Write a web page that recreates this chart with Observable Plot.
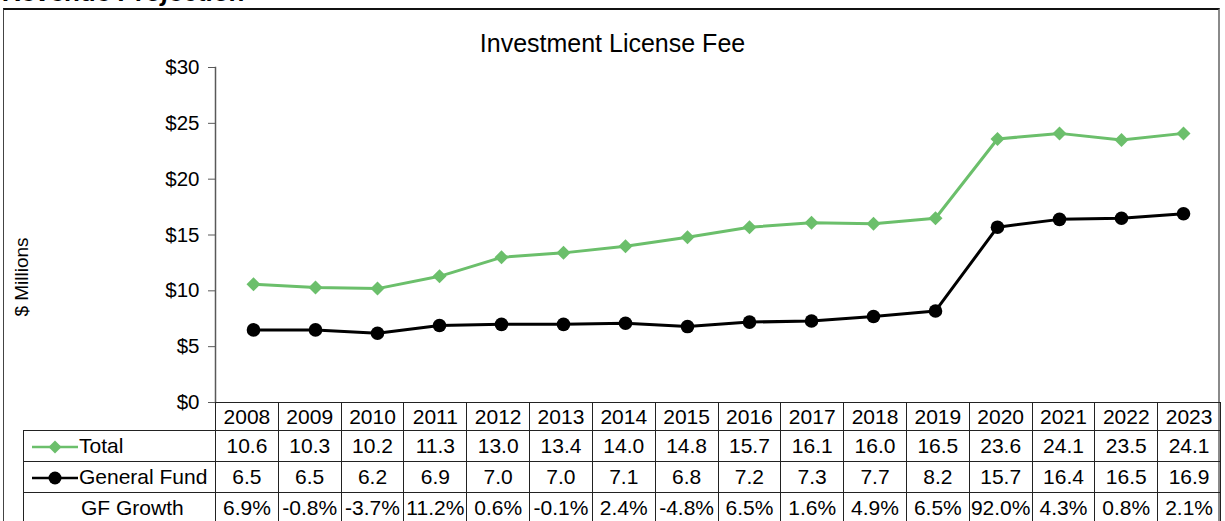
<!DOCTYPE html>
<html>
<head>
<meta charset="utf-8">
<script src="https://cdn.jsdelivr.net/npm/d3@7"></script>
<script src="https://cdn.jsdelivr.net/npm/@observablehq/plot@0.6"></script>
<style>
  html, body { margin: 0; padding: 0; background: #fff; }
  body { width: 1225px; height: 521px; overflow: hidden; position: relative;
         font-family: "Liberation Sans", Arial, sans-serif; color: #000; }
  #pagetitle { position: absolute; left: 3px; top: -20.8px; font-size: 26px; line-height: 26px;
               font-weight: bold; font-style: italic; white-space: nowrap; }
  #box { position: absolute; left: 3px; top: 8px; width: 1217px; height: 530px;
         border-left: 1px solid #444; border-top: 2px solid #111; border-right: 2px solid #8a8a8a; box-sizing: border-box; }
  #charttitle { position: absolute; left: 0; top: 31px; width: 1225px; text-align: center;
                font-size: 25px; line-height: 25px; white-space: nowrap; }
  #ylabel { position: absolute; left: 21px; top: 277px; font-size: 19px; line-height: 19px; white-space: nowrap;
            transform: translate(-50%, -50%) rotate(-90deg); }
  #chart { position: absolute; left: 0; top: 0; }
  #tbl { position: absolute; left: 23px; top: 402px; border-collapse: collapse; table-layout: fixed;
         font-size: 21px; }
  #tbl td { border: 1px solid #222; padding: 0; text-align: center; white-space: nowrap; overflow: hidden; }
  #tbl td.blank { border: none; }
  #tbl td.lab { text-align: left; }
  #tbl tr.hdr td { height: 27px; }
  #tbl tr.row td { height: 30px; }
  .sw { display: inline-block; vertical-align: middle; margin-left: 8px; margin-right: 1px; }
</style>
</head>
<body>
<div id="pagetitle">Revenue Projection</div>
<div id="box"></div>
<div id="charttitle">Investment License Fee</div>
<div id="chart"></div>
<div id="ylabel"></div>
<table id="tbl"></table>
<script>
const years = ["2008","2009","2010","2011","2012","2013","2014","2015","2016","2017","2018","2019","2020","2021","2022","2023"];
const total = [10.6, 10.3, 10.2, 11.3, 13.0, 13.4, 14.0, 14.8, 15.7, 16.1, 16.0, 16.5, 23.6, 24.1, 23.5, 24.1];
const generalFund = [6.5, 6.5, 6.2, 6.9, 7.0, 7.0, 7.1, 6.8, 7.2, 7.3, 7.7, 8.2, 15.7, 16.4, 16.5, 16.9];
const gfGrowth = ["6.9%","-0.8%","-3.7%","11.2%","0.6%","-0.1%","2.4%","-4.8%","6.5%","1.6%","4.9%","6.5%","92.0%","4.3%","0.8%","2.1%"];
const yTicks = [0, 5, 10, 15, 20, 25, 30];
const seriesNames = ["Total", "General Fund", "GF Growth"];
const yLabel = "$ Millions";

const green = "#6BBF6B";
const totalData = years.map((y, i) => ({year: y, value: total[i]}));
const gfData = years.map((y, i) => ({year: y, value: generalFund[i]}));

document.getElementById("ylabel").textContent = yLabel;

const chart = Plot.plot({
  width: 1225,
  height: 521,
  marginLeft: 215,
  marginRight: 5,
  marginTop: 67,
  marginBottom: 119,
  style: {background: "none", fontFamily: "'Liberation Sans', Arial, sans-serif", fontSize: "20.5px", color: "#000", overflow: "visible"},
  x: {type: "point", domain: years, padding: 0.5, axis: null},
  y: {domain: [0, 30]},
  marks: [
    Plot.axisY({ticks: yTicks, tickFormat: d => "$" + d, tickSize: 7, tickPadding: 9, label: null, stroke: "#595959", fill: "#000"}),
    Plot.frame({anchor: "left", stroke: "#595959", strokeWidth: 1.5}),
    Plot.line(totalData, {x: "year", y: "value", stroke: green, strokeWidth: 3}),
    Plot.dot(totalData, {x: "year", y: "value", symbol: "diamond2", r: 6.3, fill: green, stroke: "none"}),
    Plot.line(gfData, {x: "year", y: "value", stroke: "#000", strokeWidth: 3}),
    Plot.dot(gfData, {x: "year", y: "value", r: 6.8, fill: "#000", stroke: "none"})
  ]
});
document.getElementById("chart").appendChild(chart);

// table
const tbl = document.getElementById("tbl");
const colW = (1220 - 215) / years.length;
let html = '<colgroup><col style="width:192px">' + years.map(() => `<col style="width:${colW}px">`).join("") + '</colgroup>';
html += '<tr class="hdr"><td class="blank"></td>' + years.map(y => `<td>${y}</td>`).join("") + '</tr>';
const swTotal = `<svg class="sw" width="46" height="16"><line x1="0" y1="8" x2="46" y2="8" stroke="${green}" stroke-width="2.5"/><path d="M23,1.5 L29.5,8 L23,14.5 L16.5,8 Z" fill="${green}"/></svg>`;
const swGF = `<svg class="sw" width="46" height="16"><line x1="0" y1="8" x2="46" y2="8" stroke="#000" stroke-width="2.5"/><circle cx="23" cy="8" r="6.5" fill="#000"/></svg>`;
html += `<tr class="row"><td class="lab">${swTotal}${seriesNames[0]}</td>` + total.map(v => `<td>${v.toFixed(1)}</td>`).join("") + '</tr>';
html += `<tr class="row"><td class="lab">${swGF}${seriesNames[1]}</td>` + generalFund.map(v => `<td>${v.toFixed(1)}</td>`).join("") + '</tr>';
html += `<tr class="row"><td class="lab" style="padding-left:57px">${seriesNames[2]}</td>` + gfGrowth.map(v => `<td>${v}</td>`).join("") + '</tr>';
tbl.innerHTML = html;
</script>
</body>
</html>
